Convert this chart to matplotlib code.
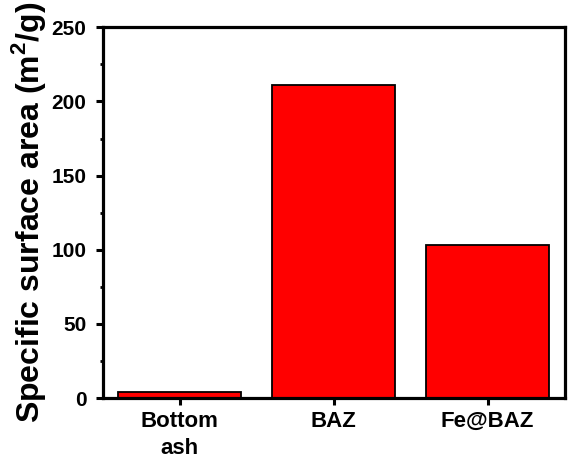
import matplotlib
matplotlib.use("Agg")
import matplotlib.pyplot as plt
from matplotlib.ticker import MultipleLocator

categories = ["Bottom\nash", "BAZ", "Fe@BAZ"]
surface_area = [4, 211, 103]

plt.rcParams['font.family'] = ['Liberation Sans', 'DejaVu Sans']
plt.rcParams['font.weight'] = 'bold'
plt.rcParams['mathtext.fontset'] = 'custom'
plt.rcParams['mathtext.rm'] = 'Liberation Sans:bold'
plt.rcParams['mathtext.bf'] = 'Liberation Sans:bold'

W, H = 572, 471
fig = plt.figure(figsize=(W / 100, H / 100), dpi=100)
# axes box (pixels)
left, right, top, bottom = 102.5, 564.5, 27.3, 398
ax = fig.add_axes([left / W, (H - bottom) / H, (right - left) / W, (bottom - top) / H])

x = range(len(categories))
ax.bar(x, surface_area, width=0.8, color='#ff0000', edgecolor='black', linewidth=1.3)

ax.set_xlim(-0.5, 2.5)
ax.set_ylim(0, 250)
ax.set_xticks(list(x))
ax.set_xticklabels(categories, fontsize=16, fontweight='bold', linespacing=1.35)
ax.yaxis.set_major_locator(MultipleLocator(50))
ax.yaxis.set_minor_locator(MultipleLocator(25))
for lab in ax.get_yticklabels():
    lab.set_fontsize(15)
    lab.set_fontweight('bold')

ax.tick_params(axis='x', which='major', direction='out', length=5, width=2.2, pad=4.5)
ax.tick_params(axis='y', which='major', direction='out', length=5, width=2.2, pad=6.5)
ax.tick_params(axis='y', which='minor', direction='out', length=2.5, width=2.0)
for s in ax.spines.values():
    s.set_linewidth(2.3)

ax.set_ylabel("Specific surface area (m$^{2}$/g)", fontsize=23, fontweight='bold', labelpad=2.5)

fig.savefig("out.png", dpi=100)
